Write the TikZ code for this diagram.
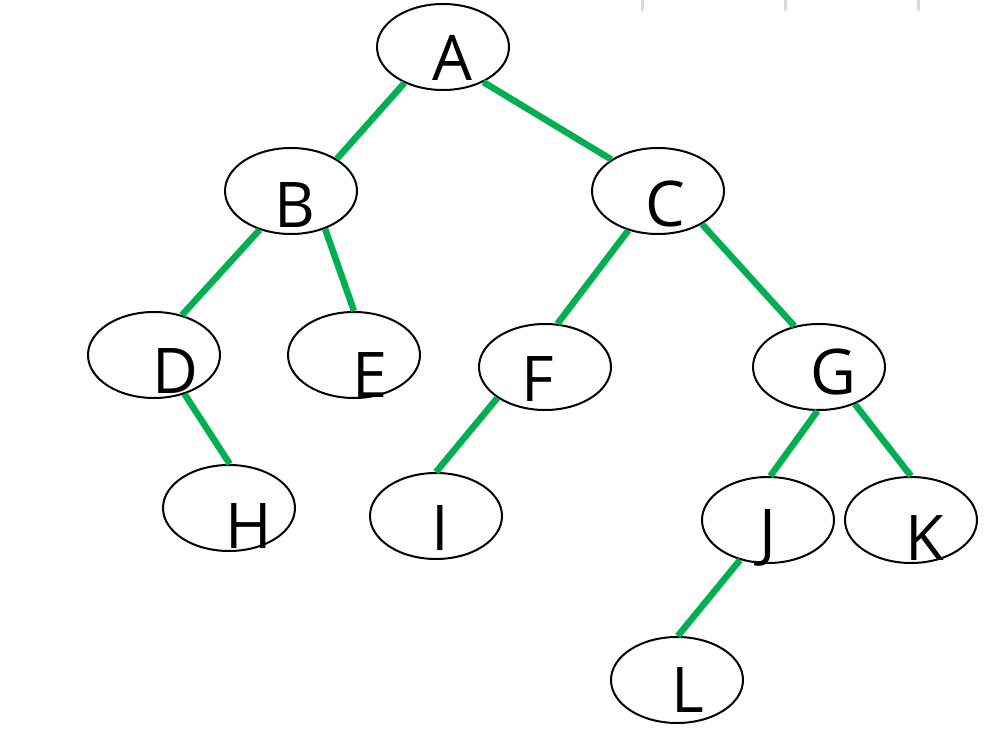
\documentclass[tikz,border=0pt]{standalone}
\usepackage{fontspec}
\setmainfont{Open Sans}
\usetikzlibrary{shapes.geometric}
\definecolor{edgegreen}{RGB}{0,176,80}
\definecolor{tabgrey}{RGB}{217,217,217}
\tikzset {
  vertex style/.style = {
    ellipse,
    draw=black,
    line width=2pt,
    fill=white,
    minimum width=132pt,
    minimum height=86pt,
    inner sep=0pt
  },
  letter style/.style = {
    font=\fontsize{63}{70}\selectfont,
    inner sep=0pt
  },
  edge style/.style = {
    line width=6.5pt,
    draw=edgegreen
  }
}

\begin{document}
\begin{tikzpicture}[x=1pt, y=-1pt]

\useasboundingbox (0,0) rectangle (997,730);

% --- Grid marks at the top ---
\draw[tabgrey, line width=3pt] (642,0) -- (642,11);
\draw[tabgrey, line width=3pt] (785,0) -- (785,11);
\draw[tabgrey, line width=3pt] (918,0) -- (918,11);

% --- Vertices ---
\node[vertex style, label={[letter style, xshift=9pt,  yshift=-11pt]center:A}] (A) at (443,47)  {};
\node[vertex style, label={[letter style, xshift=4pt,  yshift=-14pt]center:B}] (B) at (291,191) {};
\node[vertex style, label={[letter style, xshift=7pt,  yshift=-13pt]center:C}] (C) at (658,191) {};
\node[vertex style, label={[letter style, xshift=21pt, yshift=-16pt]center:D}] (D) at (154,355) {};
\node[vertex style, label={[letter style, xshift=16pt, yshift=-20pt]center:E}] (E) at (354,355) {};
\node[vertex style, label={[letter style, xshift=-7pt, yshift=-12pt]center:F}] (F) at (545,367) {};
\node[vertex style, label={[letter style, xshift=14pt, yshift=-5pt]center:G}]  (G) at (819,367) {};
\node[vertex style, label={[letter style, xshift=20pt, yshift=-18pt]center:H}] (H) at (229,508) {};
\node[vertex style, label={[letter style, xshift=4pt,  yshift=-12pt]center:I}] (I) at (436,516) {};
\node[vertex style, label={[letter style, xshift=0pt,  yshift=-18pt]center:J}] (J) at (768,520) {};
\node[vertex style, label={[letter style, xshift=14pt, yshift=-18pt]center:K}] (K) at (911,520) {};
\node[vertex style, label={[letter style, xshift=11pt, yshift=-10pt]center:L}] (L) at (677,680) {};

% --- Edges ---
\draw[edge style] (A.223) -- (B.35);
\draw[edge style] (A.319) -- (C.146);
\draw[edge style] (B.231) -- (D.55);
\draw[edge style] (B.312) -- (E.90);
\draw[edge style] (C.233) -- (F.74);
\draw[edge style] (C.323) -- (G.121);
\draw[edge style] (D.308) -- (H.89);
\draw[edge style] (F.213) -- (I.90);
\draw[edge style] (G.268) -- (J.87);
\draw[edge style] (G.314) -- (K.90);
\draw[edge style] (J.235) -- (L.89);

\end{tikzpicture}
\end{document}
